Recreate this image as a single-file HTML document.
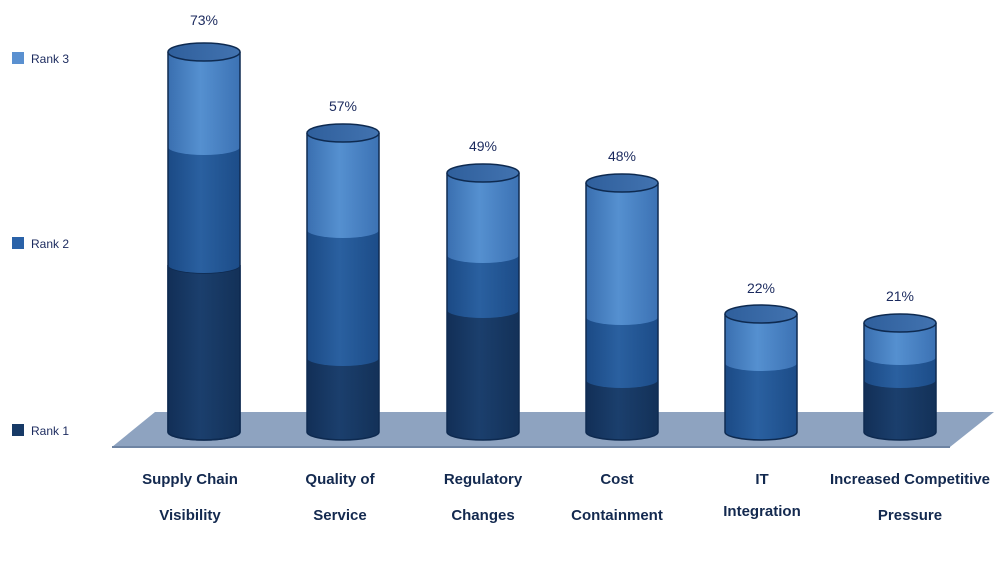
<!DOCTYPE html>
<html><head><meta charset="utf-8"><style>
html,body{margin:0;padding:0;background:#fff;}
svg{display:block;}
text{font-family:"Liberation Sans",sans-serif;}
</style></head><body>
<svg width="1000" height="562" viewBox="0 0 1000 562" xmlns="http://www.w3.org/2000/svg">
<defs>
<linearGradient id="g3" x1="0" x2="1"><stop offset="0" stop-color="#3a6fb0"/><stop offset="0.45" stop-color="#5590d0"/><stop offset="1" stop-color="#3c72b4"/></linearGradient>
<linearGradient id="g2" x1="0" x2="1"><stop offset="0" stop-color="#1b4a85"/><stop offset="0.45" stop-color="#2a60a0"/><stop offset="1" stop-color="#1c4c88"/></linearGradient>
<linearGradient id="g1" x1="0" x2="1"><stop offset="0" stop-color="#122f57"/><stop offset="0.45" stop-color="#1b3f6d"/><stop offset="1" stop-color="#133158"/></linearGradient>
<linearGradient id="gt" x1="0" x2="1"><stop offset="0" stop-color="#2f5f9c"/><stop offset="1" stop-color="#4273b0"/></linearGradient>
</defs>
<polygon points="112,447 155,412 994,412 950,447" fill="#8ea3c0"/>
<line x1="112" y1="447" x2="950" y2="447" stroke="#6e84a3" stroke-width="2"/>

<g stroke="#0e2a50" stroke-width="1.5">
<!-- bar template: x, w=72 -->
<!-- 1 -->
<path d="M168,265 V432 A36,8 0 0 0 240,432 V265 A36,8 0 0 1 168,265Z" fill="url(#g1)"/>
<path d="M168,147 V265 A36,8 0 0 0 240,265 V147Z" fill="url(#g2)" stroke="none"/>
<path d="M168,52 V147 A36,8 0 0 0 240,147 V52Z" fill="url(#g3)" stroke="none"/>
<path d="M168,52 V432 A36,8 0 0 0 240,432 V52" fill="none"/>
<ellipse cx="204" cy="52" rx="36" ry="9" fill="url(#gt)"/>
<!-- 2 -->
<path d="M307,358 V432 A36,8 0 0 0 379,432 V358Z" fill="url(#g1)" stroke="none"/>
<path d="M307,230 V358 A36,8 0 0 0 379,358 V230Z" fill="url(#g2)" stroke="none"/>
<path d="M307,133 V230 A36,8 0 0 0 379,230 V133Z" fill="url(#g3)" stroke="none"/>
<path d="M307,133 V432 A36,8 0 0 0 379,432 V133" fill="none"/>
<ellipse cx="343" cy="133" rx="36" ry="9" fill="url(#gt)"/>
<!-- 3 -->
<path d="M447,310 V432 A36,8 0 0 0 519,432 V310Z" fill="url(#g1)" stroke="none"/>
<path d="M447,255 V310 A36,8 0 0 0 519,310 V255Z" fill="url(#g2)" stroke="none"/>
<path d="M447,173 V255 A36,8 0 0 0 519,255 V173Z" fill="url(#g3)" stroke="none"/>
<path d="M447,173 V432 A36,8 0 0 0 519,432 V173" fill="none"/>
<ellipse cx="483" cy="173" rx="36" ry="9" fill="url(#gt)"/>
<!-- 4 -->
<path d="M586,380 V432 A36,8 0 0 0 658,432 V380Z" fill="url(#g1)" stroke="none"/>
<path d="M586,317 V380 A36,8 0 0 0 658,380 V317Z" fill="url(#g2)" stroke="none"/>
<path d="M586,183 V317 A36,8 0 0 0 658,317 V183Z" fill="url(#g3)" stroke="none"/>
<path d="M586,183 V432 A36,8 0 0 0 658,432 V183" fill="none"/>
<ellipse cx="622" cy="183" rx="36" ry="9" fill="url(#gt)"/>
<!-- 5 -->
<path d="M725,363 V432 A36,8 0 0 0 797,432 V363Z" fill="url(#g2)" stroke="none"/>
<path d="M725,314 V363 A36,8 0 0 0 797,363 V314Z" fill="url(#g3)" stroke="none"/>
<path d="M725,314 V432 A36,8 0 0 0 797,432 V314" fill="none"/>
<ellipse cx="761" cy="314" rx="36" ry="9" fill="url(#gt)"/>
<!-- 6 -->
<path d="M864,380 V432 A36,8 0 0 0 936,432 V380Z" fill="url(#g1)" stroke="none"/>
<path d="M864,357 V380 A36,8 0 0 0 936,380 V357Z" fill="url(#g2)" stroke="none"/>
<path d="M864,323 V357 A36,8 0 0 0 936,357 V323Z" fill="url(#g3)" stroke="none"/>
<path d="M864,323 V432 A36,8 0 0 0 936,432 V323" fill="none"/>
<ellipse cx="900" cy="323" rx="36" ry="9" fill="url(#gt)"/>
</g>

<g font-size="14" fill="#1b2a5e" text-anchor="middle">
<text x="204" y="25">73%</text>
<text x="343" y="111">57%</text>
<text x="483" y="151">49%</text>
<text x="622" y="161">48%</text>
<text x="761" y="293">22%</text>
<text x="900" y="301">21%</text>
</g>

<rect x="12" y="52" width="12" height="12" fill="#5a90d0"/>
<rect x="12" y="237" width="12" height="12" fill="#2a62a8"/>
<rect x="12" y="424" width="12" height="12" fill="#173a66"/>
<g font-size="12" fill="#1b2a5e">
<text x="31" y="63">Rank 3</text>
<text x="31" y="248">Rank 2</text>
<text x="31" y="435">Rank 1</text>
</g>

<g font-size="15" font-weight="bold" fill="#13294f" text-anchor="middle">
<text x="190" y="484">Supply Chain</text><text x="190" y="520">Visibility</text>
<text x="340" y="484">Quality of</text><text x="340" y="520">Service</text>
<text x="483" y="484">Regulatory</text><text x="483" y="520">Changes</text>
<text x="617" y="484">Cost</text><text x="617" y="520">Containment</text>
<text x="762" y="484">IT</text><text x="762" y="516">Integration</text>
<text x="910" y="484">Increased Competitive</text><text x="910" y="520">Pressure</text>
</g>
</svg>
</body></html>
